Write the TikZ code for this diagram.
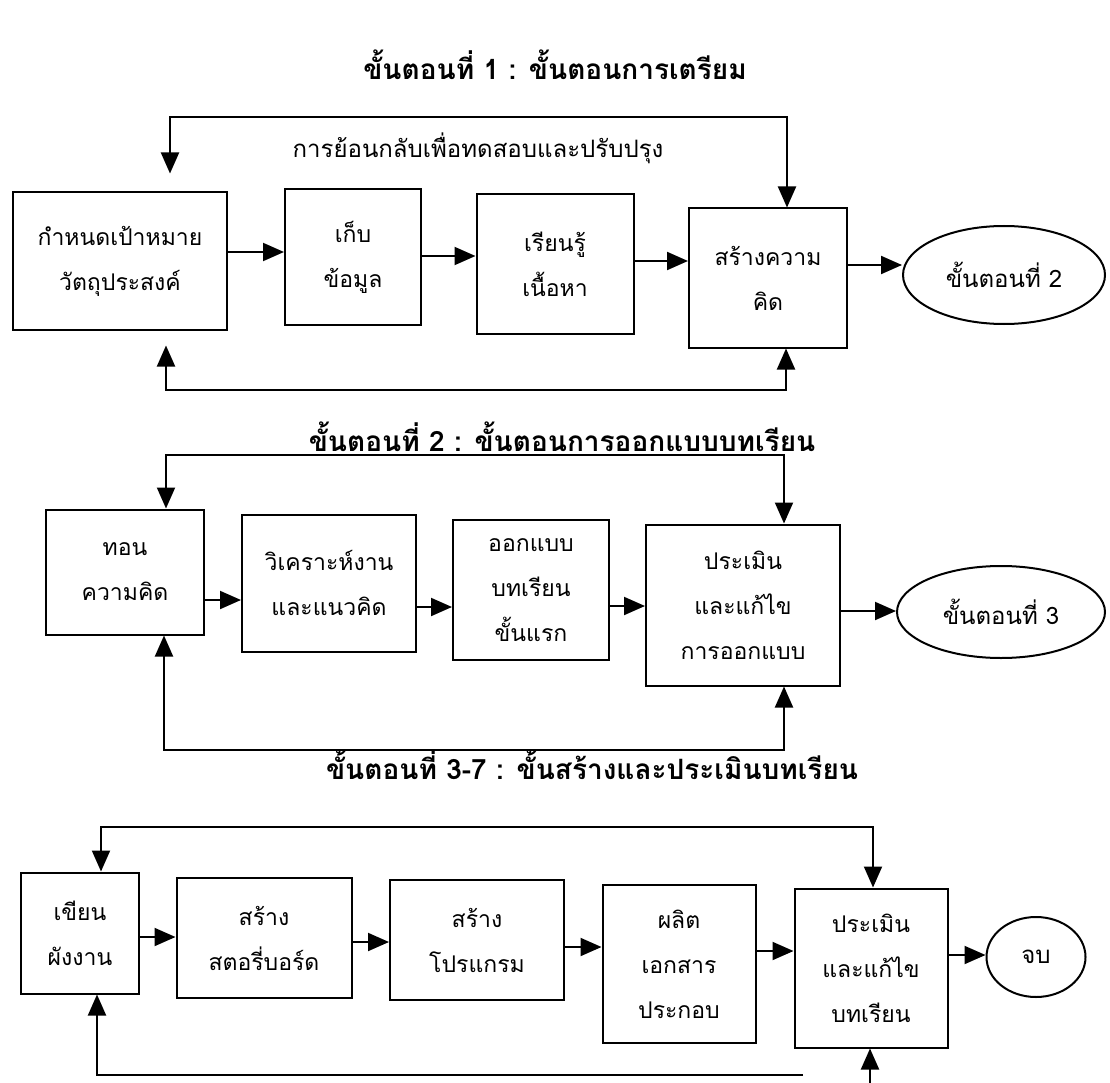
\documentclass[tikz,border=0pt]{standalone}
\usepackage{fontspec}
\usetikzlibrary{shapes.geometric,arrows.meta}
\newfontfamily\thaifont[Script=Thai]{Loma}

\tikzset{
	box/.style={draw, line width=2pt, align=center, inner sep=0pt,
		font=\thaifont\fontsize{23}{45}\selectfont},
	oval/.style={draw, ellipse, line width=2pt, inner sep=0pt,
		font=\thaifont\fontsize{24}{26}\selectfont},
	headline/.style={font=\thaifont\bfseries\fontsize{28}{32}\selectfont},
	arr/.style={line width=2pt, -{Triangle[length=21pt,width=18pt]}},
	loop/.style={line width=2pt, {Triangle[length=21pt,width=18pt]}-{Triangle[length=21pt,width=18pt]}}
}

\begin{document}
\begin{tikzpicture}[x=1pt,y=-1pt]
	\useasboundingbox (0,0) rectangle (1110,1083);

	% Step 1: preparation
	\node[headline] (head1) at (555,65) {ขั้นตอนที่ 1 : ขั้นตอนการเตรียม};
	\node[box, minimum width=214pt, minimum height=137pt] (goal) at (120,261) {กำหนดเป้าหมาย\\วัตถุประสงค์};
	\node[box, minimum width=136pt, minimum height=135pt] (collect) at (353,257) {เก็บ\\ข้อมูล};
	\node[box, minimum width=157pt, minimum height=139pt] (learn) at (555,264) {เรียนรู้\\เนื้อหา};
	\node[box, minimum width=158pt, minimum height=139pt] (idea) at (768,278) {สร้างความ\\คิด};
	\node[oval, minimum width=202pt, minimum height=98pt] (next2) at (1004,275) {ขั้นตอนที่ 2};
	\node[font=\thaifont\fontsize{24}{26}\selectfont] (feedback) at (478,148) {การย้อนกลับเพื่อทดสอบและปรับปรุง};

	\draw[arr] (goal.east |- 0,252) -- (collect.west |- 0,252);
	\draw[arr] (collect.east |- 0,256) -- (learn.west |- 0,256);
	\draw[arr] (learn.east |- 0,261) -- (idea.west |- 0,261);
	\draw[arr] (idea.east |- 0,265) -- (next2.west |- 0,265);

	% feedback loops of step 1
	\coordinate (top1) at (170,117);
	\coordinate (bot1) at (166,390);
	\draw[loop] ([yshift=18pt]goal.north -| top1) -- (top1) -| (idea.north -| 787,0);
	\draw[loop] ([yshift=-15pt]goal.south -| bot1) -- (bot1) -| (idea.south -| 786,0);

	% Step 2: lesson design
	\node[headline] (head2) at (562,437) {ขั้นตอนที่ 2 : ขั้นตอนการออกแบบบทเรียน};
	\node[box, minimum width=158pt, minimum height=125pt] (reduce) at (125,572) {ทอน\\ความคิด};
	\node[box, minimum width=174pt, minimum height=137pt] (analyse) at (329,583) {วิเคราะห์งาน\\และแนวคิด};
	\node[box, minimum width=156pt, minimum height=140pt] (draft) at (531,590) {ออกแบบ\\บทเรียน\\ขั้นแรก};
	\node[box, minimum width=194pt, minimum height=161pt] (review) at (743,605) {ประเมิน\\และแก้ไข\\การออกแบบ};
	\node[oval, minimum width=208pt, minimum height=92pt] (next3) at (1001,612) {ขั้นตอนที่ 3};

	\draw[arr] (reduce.east |- 0,600) -- (analyse.west |- 0,600);
	\draw[arr] (analyse.east |- 0,607) -- (draft.west |- 0,607);
	\draw[arr] (draft.east |- 0,606) -- (review.west |- 0,606);
	\draw[arr] (review.east |- 0,611) -- (next3.west |- 0,611);

	% feedback loops of step 2
	\coordinate (top2) at (166,455);
	\coordinate (bot2) at (164,750);
	\draw[loop] (reduce.north -| top2) -- (top2) -| (review.north -| 784,0);
	\draw[loop] (reduce.south -| bot2) -- (bot2) -| (review.south -| 784,0);

	% Steps 3-7: build and evaluate
	\node[headline] (head3) at (592,765) {ขั้นตอนที่ 3-7 : ขั้นสร้างและประเมินบทเรียน};
	\node[box, minimum width=118pt, minimum height=121pt] (chart) at (80,933) {เขียน\\ผังงาน};
	\node[box, minimum width=175pt, minimum height=120pt] (story) at (264,938) {สร้าง\\สตอรี่บอร์ด};
	\node[box, minimum width=174pt, minimum height=120pt] (program) at (477,940) {สร้าง\\โปรแกรม};
	\node[box, minimum width=153pt, minimum height=158pt] (docs) at (679,964) {ผลิต\\เอกสาร\\ประกอบ};
	\node[box, minimum width=153pt, minimum height=159pt] (final) at (871,968) {ประเมิน\\และแก้ไข\\บทเรียน};
	\node[oval, minimum width=99pt, minimum height=80pt] (finish) at (1036,957) {จบ};

	\draw[arr] (chart.east |- 0,937) -- (story.west |- 0,937);
	\draw[arr] (story.east |- 0,942) -- (program.west |- 0,942);
	\draw[arr] (program.east |- 0,947) -- (docs.west |- 0,947);
	\draw[arr] (docs.east |- 0,951) -- (final.west |- 0,951);
	\draw[arr] (final.east |- 0,955) -- (finish.west |- 0,955);

	% feedback loops of steps 3-7
	\coordinate (top3) at (101,827);
	\coordinate (bot3) at (97,1075);
	\coordinate (cut3) at (803,1075);
	\coordinate (low3) at (870,1083);
	\draw[loop] (chart.north -| top3) -- (top3) -| (final.north -| 873,0);
	\draw[arr] (cut3) -- (bot3) -- (chart.south -| bot3);
	\draw[arr] (low3) -- (final.south -| low3);
\end{tikzpicture}
\end{document}
